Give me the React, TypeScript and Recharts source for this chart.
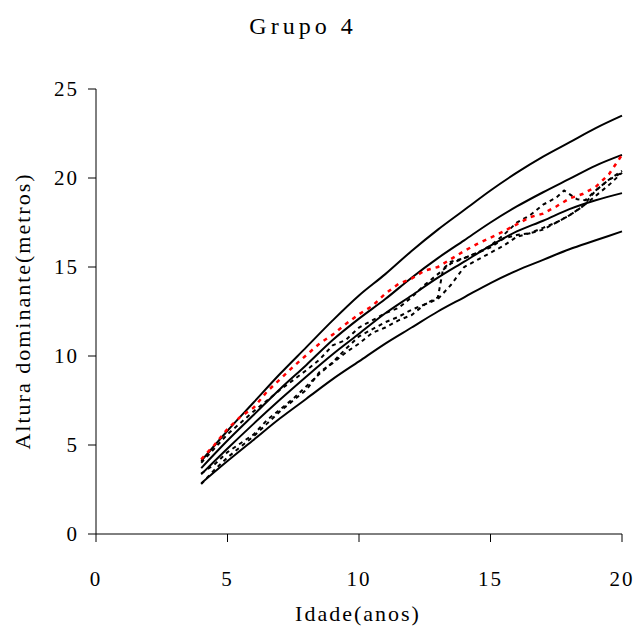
import React from "react";
import { LineChart, Line, XAxis, YAxis } from "recharts";

// site-index curves, read at whole years
const curveAges = [4, 5, 6, 7, 8, 9, 10, 11, 12, 13, 14, 15, 16, 17, 18, 19, 20];
const curveHigh = [4.1, 5.8, 7.4, 9.0, 10.5, 12.0, 13.4, 14.6, 15.9, 17.1, 18.2, 19.3, 20.3, 21.2, 22.0, 22.8, 23.5];
const curveMidHigh = [3.7, 5.25, 6.7, 8.15, 9.5, 10.9, 12.1, 13.2, 14.4, 15.5, 16.5, 17.5, 18.4, 19.2, 19.95, 20.7, 21.3];
const curveMidLow = [3.35, 4.8, 6.2, 7.55, 8.85, 10.1, 11.25, 12.4, 13.4, 14.4, 15.3, 16.2, 17.0, 17.6, 18.25, 18.75, 19.15];
const curveLow = [2.85, 4.1, 5.3, 6.5, 7.6, 8.7, 9.7, 10.7, 11.6, 12.5, 13.3, 14.1, 14.8, 15.4, 16.0, 16.5, 17.0];

// measured plots (dashed)
const plotRedAges = [4, 4.5, 5, 5.5, 6, 6.5, 7, 7.5, 8, 8.5, 9, 9.5, 10, 10.5, 11, 11.5, 12, 12.5, 13, 13.5, 14, 14.5, 15, 15.5, 16, 16.5, 17, 17.5, 18, 18.5, 19, 19.5, 20];
const plotRedHeights = [4.2, 5.0, 5.9, 6.6, 7.1, 8.0, 8.7, 9.4, 10.05, 10.7, 11.2, 11.8, 12.35, 12.8, 13.5, 14.05, 14.35, 14.8, 15.0, 15.45, 15.9, 16.3, 16.65, 17.0, 17.4, 17.8, 18.0, 18.4, 18.85, 19.1, 19.5, 20.2, 21.3];

const plotAAges = [4, 5, 6, 7, 8, 8.5, 9, 9.5, 10, 10.5, 11, 11.5, 12, 12.5, 13, 13.5, 14, 14.5, 15, 15.5, 16, 16.5, 17, 17.5, 17.8, 18.3, 18.6, 19, 19.5, 20];
const plotAHeights = [4.0, 5.6, 6.9, 8.1, 9.2, 9.8, 10.6, 10.9, 11.6, 12.0, 12.4, 12.7, 13.3, 14.0, 14.6, 15.2, 15.5, 15.8, 16.2, 16.8, 17.5, 17.9, 18.5, 18.9, 19.3, 18.8, 18.75, 19.3, 19.9, 20.4];

const plotBAges = [4, 4.5, 5, 5.5, 6, 6.5, 7, 7.5, 8, 8.5, 9, 9.5, 10, 10.5, 11, 11.5, 12, 12.5, 13, 13.2, 13.5, 14, 14.5, 15, 15.5, 16, 16.5, 17, 17.5, 18, 18.5, 19, 19.5, 20];
const plotBHeights = [3.4, 3.9, 4.6, 5.1, 5.6, 6.4, 7.0, 7.6, 8.3, 9.0, 9.65, 10.4, 11.1, 11.5, 11.9, 12.2, 12.6, 12.9, 13.3, 14.9, 15.3, 15.5, 15.8, 16.1, 16.6, 16.8, 16.9, 17.1, 17.5, 17.9, 18.4, 19.3, 19.9, 20.3];

const plotCAges = [4, 4.5, 5, 5.5, 6, 6.5, 7, 7.5, 8, 8.5, 9, 9.5, 10, 10.5, 11, 11.5, 12, 12.5, 13, 13.5, 14, 14.5, 15, 15.5, 16, 16.5, 17, 17.5, 18, 18.5, 19, 19.5, 20];
const plotCHeights = [2.8, 3.6, 4.3, 4.9, 5.5, 6.2, 6.9, 7.5, 8.1, 9.1, 9.6, 10.2, 10.7, 11.3, 11.6, 12.0, 12.3, 12.9, 13.2, 14.0, 15.0, 15.4, 15.8, 16.2, 16.7, 16.9, 17.2, 17.5, 17.9, 18.4, 19.0, 19.6, 20.3];

const xTicks = [0, 5, 10, 15, 20];
const yTicks = [0, 5, 10, 15, 20, 25];

const toPoints = (ages: number[], heights: number[]) =>
  ages.map((age, i) => ({ age, h: heights[i] }));

const solids = [curveHigh, curveMidHigh, curveMidLow, curveLow].map((h) => toPoints(curveAges, h));
const dashedBlack = [
  toPoints(plotAAges, plotAHeights),
  toPoints(plotBAges, plotBHeights),
  toPoints(plotCAges, plotCHeights),
];
const dashedRed = toPoints(plotRedAges, plotRedHeights);

const W = 636;
const H = 628;
const font = "Liberation Serif";
const tickStyle = { fill: "#000", fontSize: 21, style: { fontFamily: font, letterSpacing: 2 } };
const labelStyle = { fontFamily: font, fontSize: 22, letterSpacing: 2 };

export default function App() {
  return (
    <div style={{ position: "relative", width: W, height: H, overflow: "hidden" }}>
      <style>{"html,body{margin:0;padding:0;overflow:hidden}"}</style>
      <LineChart width={W} height={H} margin={{ top: 89, right: 14, bottom: 34, left: 36 }}>
        <XAxis
          type="number"
          dataKey="age"
          domain={[0, 20]}
          ticks={xTicks}
          allowDuplicatedCategory={false}
          height={60}
          tick={tickStyle}
          tickSize={8}
          tickMargin={29}
          axisLine={{ stroke: "#000", strokeWidth: 1 }}
          tickLine={{ stroke: "#000" }}
        />
        <YAxis
          type="number"
          dataKey="h"
          domain={[0, 25]}
          ticks={yTicks}
          width={60}
          tick={tickStyle}
          tickSize={8}
          tickMargin={9}
          axisLine={{ stroke: "#000", strokeWidth: 1 }}
          tickLine={{ stroke: "#000" }}
        />
        {solids.map((d, i) => (
          <Line
            key={"s" + i}
            data={d}
            dataKey="h"
            type="monotone"
            stroke="#000"
            strokeWidth={2}
            dot={false}
            isAnimationActive={false}
          />
        ))}
        {dashedBlack.map((d, i) => (
          <Line
            key={"b" + i}
            data={d}
            dataKey="h"
            type="linear"
            stroke="#000"
            strokeWidth={2}
            strokeDasharray="4 4"
            dot={false}
            isAnimationActive={false}
          />
        ))}
        <Line
          data={dashedRed}
          dataKey="h"
          type="linear"
          stroke="#ff0000"
          strokeWidth={2.5}
          strokeDasharray="4 5"
          dot={false}
          isAnimationActive={false}
        />
      </LineChart>
      <svg
        width={W}
        height={H}
        style={{ position: "absolute", left: 0, top: 0, pointerEvents: "none" }}
      >
        <text x={303} y={34} textAnchor="middle" fill="#000" style={{ ...labelStyle, fontSize: 24, letterSpacing: 4 }}>
          Grupo 4
        </text>
        <text x={358} y={621} textAnchor="middle" fill="#000" style={labelStyle}>
          Idade(anos)
        </text>
        <text transform="translate(30, 311) rotate(-90)" textAnchor="middle" fill="#000" style={labelStyle}>
          Altura dominante(metros)
        </text>
      </svg>
    </div>
  );
}
